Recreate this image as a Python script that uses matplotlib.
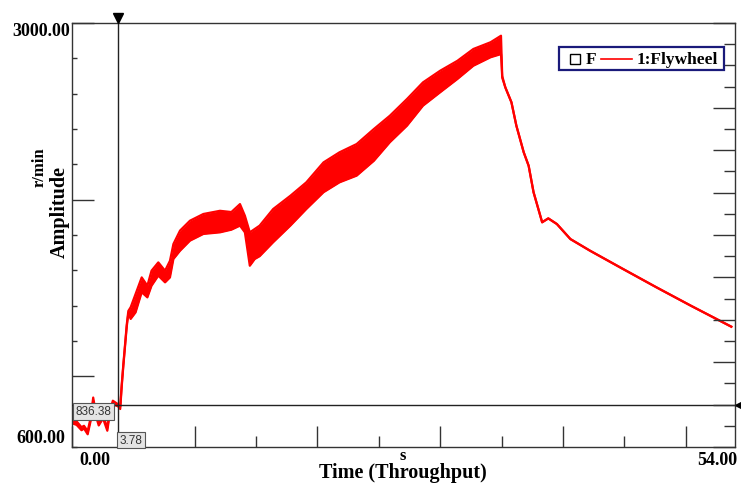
import matplotlib
matplotlib.use("Agg")
import matplotlib.pyplot as plt
from matplotlib.ticker import MultipleLocator
from matplotlib.transforms import blended_transform_factory, offset_copy
from matplotlib.lines import Line2D
from matplotlib.patches import Rectangle

# ---------------- data ----------------
time_s = [0.0, 0.4, 0.8, 1.0, 1.3, 1.55, 1.75, 1.95, 2.2, 2.55, 2.9, 3.1, 3.35, 3.6, 3.78, 3.95,
          4.07, 4.2, 4.34, 4.48, 4.61, 4.8, 5.2, 5.7, 6.16, 6.5, 7.05, 7.6, 8.0, 8.28, 8.82,
          9.63, 10.72, 12.07, 13.0, 13.7, 14.1, 14.5, 14.9, 15.3, 16.4, 17.8, 19.1, 20.5,
          21.8, 23.2, 24.6, 25.9, 27.3, 28.6, 30.0, 31.4, 32.7, 34.1, 34.95, 35.05, 35.3,
          35.8, 36.2, 36.8, 37.2, 37.6, 38.3, 38.8, 39.5, 40.6, 42.2, 44.9, 47.6, 50.4, 53.7]
rpm_low = [735, 725, 695, 705, 672, 750, 860, 780, 722, 762, 692, 790, 845, 835, 830, 815,
           940, 1055, 1168, 1280, 1355, 1325, 1362, 1476, 1447, 1513, 1570, 1532, 1560, 1664, 1711,
           1768, 1806, 1815, 1830, 1853, 1815, 1626, 1664, 1680, 1759, 1853, 1947, 2042,
           2098, 2136, 2220, 2325, 2419, 2532, 2608, 2683, 2758, 2806, 2824, 2690, 2636,
           2551, 2419, 2268, 2192, 2042, 1872, 1894, 1862, 1777, 1711, 1607, 1504, 1400, 1281]
rpm_high = [755, 745, 712, 720, 690, 768, 880, 800, 738, 778, 710, 805, 862, 850, 842, 828,
            952, 1065, 1178, 1292, 1370, 1391, 1466, 1560, 1513, 1598, 1645, 1598, 1654, 1749, 1825,
            1881, 1919, 1937, 1930, 1975, 1909, 1815, 1834, 1853, 1947, 2022, 2098, 2211,
            2268, 2315, 2400, 2475, 2570, 2664, 2730, 2786, 2853, 2891, 2928, 2700, 2636,
            2551, 2419, 2268, 2192, 2042, 1872, 1894, 1862, 1777, 1711, 1607, 1504, 1400, 1281]

x_min, x_max = 0.0, 54.0
y_min, y_max = 600.0, 3000.0
cursor_t = 3.78
cursor_v = 836.38
legend_marker_label = "F"
series_name = "1:Flywheel"
x_unit = "s"
x_title = "Time (Throughput)"
y_unit = "r/min"
y_title = "Amplitude"

# ---------------- figure ----------------
W, H = 741, 485
fig = plt.figure(figsize=(W / 100, H / 100), dpi=100)
L, R, T, B = 71.7, 735, 24, 448
ax = fig.add_axes([L / W, 1 - B / H, (R - L) / W, (B - T) / H])
ax.set_xlim(x_min, x_max)
ax.set_ylim(y_min, y_max)

serif = ["Liberation Serif", "DejaVu Serif"]
sans = ["Liberation Sans", "DejaVu Sans"]
red = "#ff0000"
edge = "#333333"

for s in ax.spines.values():
    s.set_color(edge)
    s.set_linewidth(1.0)

# band + edges
ax.fill_between(time_s, rpm_low, rpm_high, color=red, linewidth=0)
ax.plot(time_s, rpm_low, color=red, lw=1.6, solid_joinstyle="round")
ax.plot(time_s, rpm_high, color=red, lw=1.6, solid_joinstyle="round")

# ticks
px2pt = 0.72
ax.xaxis.set_major_locator(MultipleLocator(10))
ax.xaxis.set_minor_locator(MultipleLocator(5))
ax.yaxis.set_major_locator(MultipleLocator(1000))
ax.yaxis.set_minor_locator(MultipleLocator(200))
ax.tick_params(axis="x", which="major", direction="in", length=21 * px2pt, width=1, color=edge,
               labelbottom=False)
ax.tick_params(axis="x", which="minor", direction="in", length=11 * px2pt, width=1, color=edge)
ax.tick_params(axis="y", which="major", direction="in", length=22 * px2pt, width=1, color=edge,
               labelleft=False)
ax.tick_params(axis="y", which="minor", direction="in", length=5 * px2pt, width=1, color=edge)

ax2 = ax.twinx()
ax2.set_ylim(0, 20)
ax2.yaxis.set_major_locator(MultipleLocator(2))
ax2.yaxis.set_minor_locator(MultipleLocator(1))
ax2.tick_params(axis="y", which="major", direction="in", length=22 * px2pt, width=1, color=edge,
                labelright=False)
ax2.tick_params(axis="y", which="minor", direction="in", length=11 * px2pt, width=1, color=edge)
for s in ax2.spines.values():
    s.set_visible(False)

# cursor lines
ax.axvline(cursor_t, color="#222222", lw=1.0, zorder=5)
ax.axhline(cursor_v, color="#222222", lw=1.0, zorder=5)
ax.plot([cursor_t], [y_max], marker="v", markersize=7, color="black", clip_on=False,
        transform=offset_copy(ax.transData, fig=fig, x=0, y=5, units="dots"), zorder=6)
ax.plot([x_max], [cursor_v], marker="<", markersize=6, color="black", clip_on=False,
        transform=offset_copy(ax.transData, fig=fig, x=4, y=0, units="dots"), zorder=6)

box = dict(boxstyle="square,pad=0.2", fc="#e4e4e4", ec="#555555", lw=0.8)
ax.text(0.3, cursor_v, f"{cursor_v:.2f}", ha="left", va="top", fontsize=8.5, family=sans,
        color="#333333", bbox=box, zorder=7)
ax.text(cursor_t + 0.1, y_min + 6, f"{cursor_t:.2f}", ha="left", va="bottom", fontsize=8.5,
        family=sans, color="#333333", bbox=box, zorder=7)

# axis labels
tyb = blended_transform_factory(ax.transAxes, ax.transData)
ax.text(-2 / (R - L), y_max - 45, f"{y_max:.2f}", transform=tyb,
        ha="right", va="center", fontsize=13, family=serif, weight="bold")
ax.text(-6 / (R - L), y_min + 55, f"{y_min:.2f}", transform=tyb,
        ha="right", va="center", fontsize=13, family=serif, weight="bold")
fig.text(95 / W, 1 - 461 / H, f"{x_min:.2f}", ha="center", va="center", fontsize=13, family=serif,
         weight="bold")
fig.text(737 / W, 1 - 461 / H, f"{x_max:.2f}", ha="right", va="center", fontsize=13, family=serif,
         weight="bold")
fig.text(403 / W, 1 - 456 / H, x_unit, ha="center", va="center", fontsize=12, family=serif,
         weight="bold")
fig.text(403 / W, 1 - 473 / H, x_title, ha="center", va="center", fontsize=14.5, family=serif,
         weight="bold")
fig.text(40 / W, 1 - 167 / H, y_unit, ha="center", va="center", rotation=90, fontsize=12,
         family=serif, weight="bold")
fig.text(60 / W, 1 - 212 / H, y_title, ha="center", va="center", rotation=90, fontsize=14.5,
         family=serif, weight="bold")

# legend (drawn as a framed key in figure pixels)
def fx(px):
    return px / W

def fy(py):
    return 1 - py / H

fig.patches.append(Rectangle((fx(559), fy(71)), fx(724) - fx(559), fy(48) - fy(71),
                             transform=fig.transFigure, fill=True, fc="white", ec="#1a1a7a",
                             lw=1.6, zorder=10))
fig.lines.append(Line2D([fx(575)], [fy(60)], marker="s", markersize=7, mfc="white", mec="black",
                        lw=0, transform=fig.transFigure, zorder=11))
fig.text(fx(586), fy(60), legend_marker_label, ha="left", va="center", fontsize=12.5,
         family=serif, weight="bold", zorder=11)
fig.lines.append(Line2D([fx(601), fx(632)], [fy(60), fy(60)], color=red, lw=1.2,
                        transform=fig.transFigure, zorder=11))
fig.text(fx(637), fy(60), series_name, ha="left", va="center", fontsize=12.5,
         family=serif, weight="bold", zorder=11)

fig.savefig("out.png", dpi=100)
